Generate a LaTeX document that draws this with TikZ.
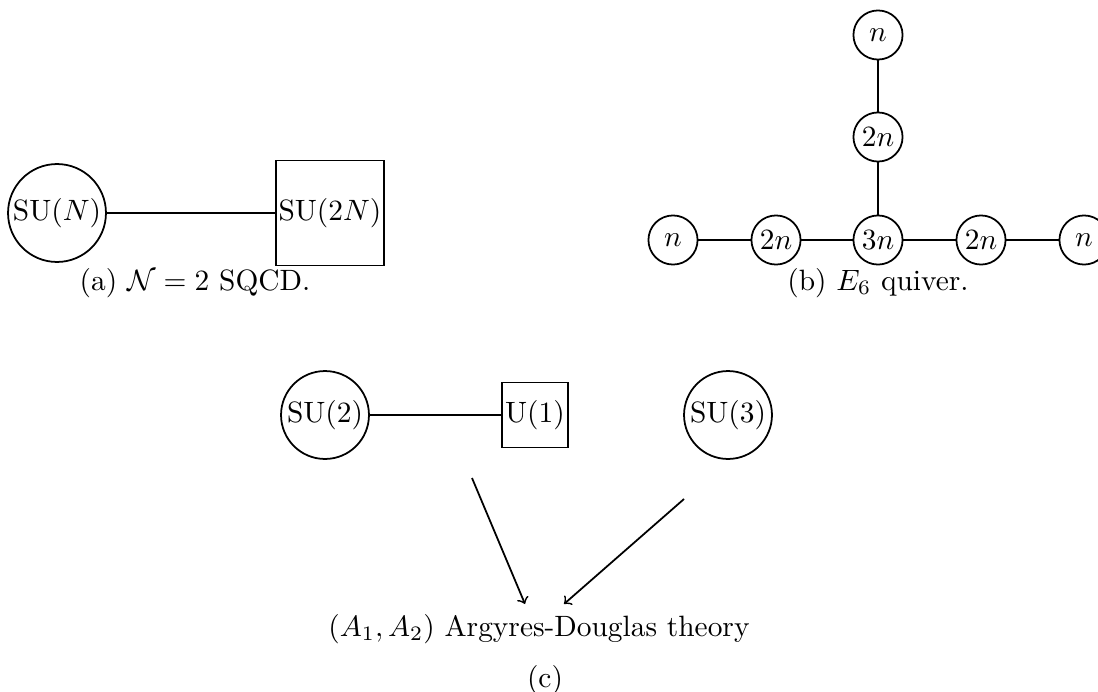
\documentclass[tikz,border=0pt]{standalone}
\usetikzlibrary{positioning}

\tikzset{
  gauge/.style={draw,circle,semithick,inner sep=0pt,minimum size=#1},
  flavor/.style={draw,rectangle,semithick,inner sep=1pt,minimum size=#1},
  link/.style={semithick},
}

\begin{document}
\begin{tikzpicture}[x=0.34pt,y=-0.34pt]
  \useasboundingbox (0,0) rectangle (1098,691);
  % (a) SQCD
  \node[gauge=33.3pt] (suN) at (57,213) {SU($N$)};
  \node[flavor=35.7pt] (su2N) at (330,213) {SU($2N$)};
  \draw[link] (suN) -- (su2N);
  \node (capa) at (195,283) {(a) $\mathcal{N}=2$ SQCD.};
  % (b) E6 quiver
  \node[gauge=16.7pt] (c3) at (878,240) {$3n$};
  \node[gauge=16.7pt] (l2) at (776,240) {$2n$};
  \node[gauge=16.7pt] (l1) at (673,240) {$n$};
  \node[gauge=16.7pt] (r2) at (981,240) {$2n$};
  \node[gauge=16.7pt] (r1) at (1084,240) {$n$};
  \node[gauge=16.7pt] (t2) at (878,137) {$2n$};
  \node[gauge=16.7pt] (t1) at (878,35) {$n$};
  \draw[link] (l1) -- (l2) -- (c3) -- (r2) -- (r1);
  \draw[link] (c3) -- (t2) -- (t1);
  \node (capb) at (878,283) {(b) $E_6$ quiver.};
  % (c) AD theory
  \node[gauge=29.9pt] (su2) at (325,415) {SU(2)};
  \node[flavor=22.1pt] (u1) at (535,415) {U(1)};
  \node[gauge=29.9pt] (su3) at (728,415) {SU(3)};
  \draw[link] (su2) -- (u1);
  \node (ad) at (539,629) {$(A_1,A_2)$ Argyres-Douglas theory};
  \coordinate (s1) at (472,478);
  \coordinate (e1) at (525,604);
  \coordinate (s2) at (684,499);
  \coordinate (e2) at (564,604);
  \draw[link,->] (s1) -- (e1);
  \draw[link,->] (s2) -- (e2);
  \node (capc) at (545,680) {(c)};
\end{tikzpicture}
\end{document}
